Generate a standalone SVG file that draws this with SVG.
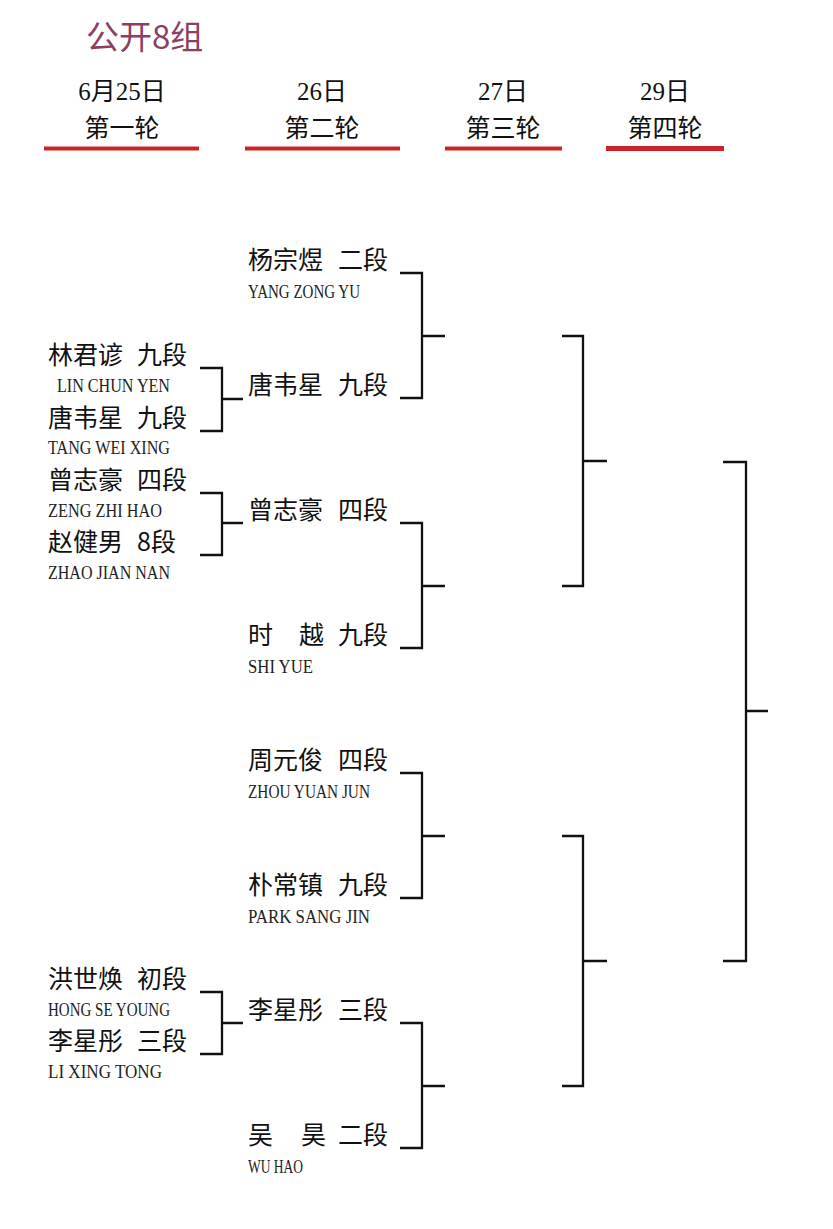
<svg xmlns="http://www.w3.org/2000/svg" width="833" height="1229" viewBox="0 0 833 1229">
<style>
.title{font-family:"Noto Sans CJK SC","Liberation Sans",sans-serif;font-size:33px;fill:#8c3f63}
.hd{font-family:"Liberation Serif","Noto Sans CJK SC",serif;font-size:25px;fill:#111;text-anchor:middle}
.cn{font-family:"Noto Sans CJK SC","Liberation Sans",sans-serif;font-size:25px;fill:#111}
.en{font-family:"Liberation Serif","Noto Sans CJK SC",serif;font-size:19px;fill:#222}
.red{fill:#cc2229}
.ln{fill:none;stroke:#111;stroke-width:2.3}
</style>
<rect width="833" height="1229" fill="#fff"/>
<g id="title"><text class="title" x="86" y="49">公开8组</text></g>
<g id="headers">
<text class="hd" x="122" y="100">6月25日</text>
<text class="hd" x="122" y="137">第一轮</text>
<rect class="red" x="44" y="146.5" width="155" height="4"/>
<text class="hd" x="322" y="100">26日</text>
<text class="hd" x="322" y="137">第二轮</text>
<rect class="red" x="245" y="146.5" width="155" height="4"/>
<text class="hd" x="503" y="100">27日</text>
<text class="hd" x="503" y="137">第三轮</text>
<rect class="red" x="445" y="146.5" width="117" height="4"/>
<text class="hd" x="665" y="100">29日</text>
<text class="hd" x="665" y="137">第四轮</text>
<rect class="red" x="606" y="146" width="118" height="5"/>
</g>
<g id="r1-lin"><text class="cn" x="48" y="364">林君谚</text><text class="cn" x="137" y="364">九段</text><text class="en" x="57" y="392" textLength="113" lengthAdjust="spacingAndGlyphs">LIN CHUN YEN</text></g>
<g id="r1-tang"><text class="cn" x="48" y="427">唐韦星</text><text class="cn" x="137" y="427">九段</text><text class="en" x="48" y="454" textLength="122" lengthAdjust="spacingAndGlyphs">TANG WEI XING</text></g>
<g id="r1-zeng"><text class="cn" x="48" y="489">曾志豪</text><text class="cn" x="137" y="489">四段</text><text class="en" x="48" y="517" textLength="114" lengthAdjust="spacingAndGlyphs">ZENG ZHI HAO</text></g>
<g id="r1-zhao"><text class="cn" x="48" y="551">赵健男</text><text class="cn" x="137" y="551">8段</text><text class="en" x="48" y="579" textLength="122" lengthAdjust="spacingAndGlyphs">ZHAO JIAN NAN</text></g>
<g id="r1-hong"><text class="cn" x="48" y="988">洪世焕</text><text class="cn" x="137" y="988">初段</text><text class="en" x="48" y="1016" textLength="122" lengthAdjust="spacingAndGlyphs">HONG SE YOUNG</text></g>
<g id="r1-li"><text class="cn" x="48" y="1050">李星彤</text><text class="cn" x="137" y="1050">三段</text><text class="en" x="48" y="1078" textLength="114" lengthAdjust="spacingAndGlyphs">LI XING TONG</text></g>
<g id="r2-yang"><text class="cn" x="248" y="269">杨宗煜</text><text class="cn" x="338" y="269">二段</text><text class="en" x="248" y="298" textLength="112" lengthAdjust="spacingAndGlyphs">YANG ZONG YU</text></g>
<g id="r2-tang"><text class="cn" x="248" y="394">唐韦星</text><text class="cn" x="338" y="394">九段</text></g>
<g id="r2-zeng"><text class="cn" x="248" y="519">曾志豪</text><text class="cn" x="338" y="519">四段</text></g>
<g id="r2-shi"><text class="cn" x="248" y="644">时</text><text class="cn" x="299" y="644">越</text><text class="cn" x="338" y="644">九段</text><text class="en" x="248" y="673" textLength="65" lengthAdjust="spacingAndGlyphs">SHI YUE</text></g>
<g id="r2-zhou"><text class="cn" x="248" y="769">周元俊</text><text class="cn" x="338" y="769">四段</text><text class="en" x="248" y="798" textLength="122" lengthAdjust="spacingAndGlyphs">ZHOU YUAN JUN</text></g>
<g id="r2-park"><text class="cn" x="248" y="894">朴常镇</text><text class="cn" x="338" y="894">九段</text><text class="en" x="248" y="923" textLength="122" lengthAdjust="spacingAndGlyphs">PARK SANG JIN</text></g>
<g id="r2-li"><text class="cn" x="248" y="1019">李星彤</text><text class="cn" x="338" y="1019">三段</text></g>
<g id="r2-wu"><text class="cn" x="248" y="1144">吴</text><text class="cn" x="301" y="1144">昊</text><text class="cn" x="338" y="1144">二段</text><text class="en" x="248" y="1173" textLength="55" lengthAdjust="spacingAndGlyphs">WU HAO</text></g>
<g id="connectors">
<path class="ln" d="M200 368H222V431H200M222 399H243"/>
<path class="ln" d="M200 493H222V555H200M222 523H243"/>
<path class="ln" d="M200 992H222V1054H200M222 1023H243"/>
<path class="ln" d="M400 273H422V398H400M422 336H445"/>
<path class="ln" d="M400 523H422V648H400M422 586H445"/>
<path class="ln" d="M400 773H422V898H400M422 836H445"/>
<path class="ln" d="M400 1023H422V1148H400M422 1086H445"/>
<path class="ln" d="M562 336H583V586H562M583 461H607"/>
<path class="ln" d="M562 836H583V1086H562M583 961H607"/>
<path class="ln" d="M723 462H746V961H723M746 711H768"/>
</g>
</svg>
